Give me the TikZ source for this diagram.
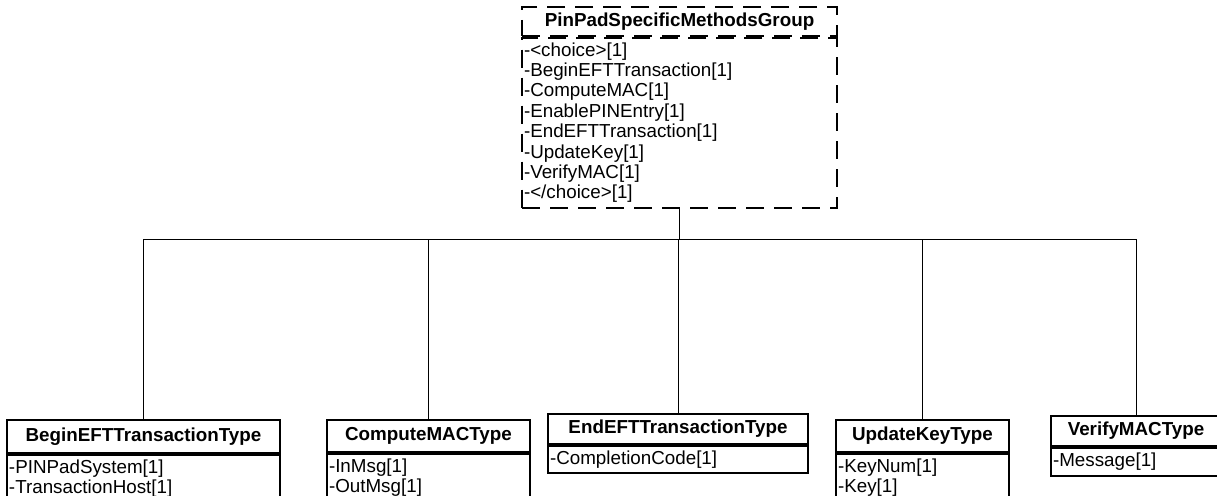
\documentclass[tikz,border=0pt]{standalone}
\usepackage{fontspec}
\setmainfont{Liberation Sans}
\usetikzlibrary{positioning}

\begin{document}
\begin{tikzpicture}[x=0.5pt, y=-0.5pt,
  head/.style={draw, line width=0.9pt, anchor=north, inner sep=0pt,
    font=\fontsize{9.4}{10.2}\selectfont\bfseries, minimum height=16pt},
  attrs/.style={draw, line width=0.9pt, inner xsep=1pt, inner ysep=1.5pt,
    align=left, font=\fontsize{9.4}{10.2}\selectfont},
  grpline/.style={dash pattern=on 9pt off 5pt},
  link/.style={line width=0.5pt}]
  \useasboundingbox (0,0) rectangle (1217,495);
  \clip (0,0) rectangle (1217,495);
  % group
  \node[head, grpline, minimum width=157.5pt, minimum height=14.5pt] (grp) at (679.5,6) {PinPadSpecificMethodsGroup};
  \node[attrs, grpline, text width=155.5pt, minimum height=85pt, below=0pt of grp] (grpA)
    {-<choice>[1]\\-BeginEFTTransaction[1]\\-ComputeMAC[1]\\-EnablePINEntry[1]\\-EndEFTTransaction[1]\\-UpdateKey[1]\\-VerifyMAC[1]\\-</choice>[1]};
  % types
  \node[head, minimum width=136.5pt, minimum height=16.5pt] (begin) at (143.5,419) {BeginEFTTransactionType};
  \node[attrs, text width=134.5pt, minimum height=24pt, below=0pt of begin] (beginA) {-PINPadSystem[1]\\-TransactionHost[1]};
  \node[head, minimum width=101.5pt] (compute) at (428.5,419) {ComputeMACType};
  \node[attrs, text width=99.5pt, minimum height=24pt, below=0pt of compute] (computeA) {-InMsg[1]\\-OutMsg[1]};
  \node[head, minimum width=130pt, minimum height=15pt] (end) at (678,413) {EndEFTTransactionType};
  \node[attrs, text width=128pt, minimum height=13.5pt, below=0pt of end] (endA) {-CompletionCode[1]};
  \node[head, minimum width=86.5pt] (update) at (922.5,419) {UpdateKeyType};
  \node[attrs, text width=84.5pt, minimum height=24pt, below=0pt of update] (updateA) {-KeyNum[1]\\-Key[1]};
  \node[head, minimum width=85pt, minimum height=15pt] (verify) at (1136,415) {VerifyMACType};
  \node[attrs, text width=83pt, minimum height=14pt, below=0pt of verify] (verifyA) {-Message[1]};
  \foreach \t in {begin,compute,end,update,verify}
    \draw[link] (grpA.south) -- ++(0,31) -| (\t.north);
\end{tikzpicture}
\end{document}
